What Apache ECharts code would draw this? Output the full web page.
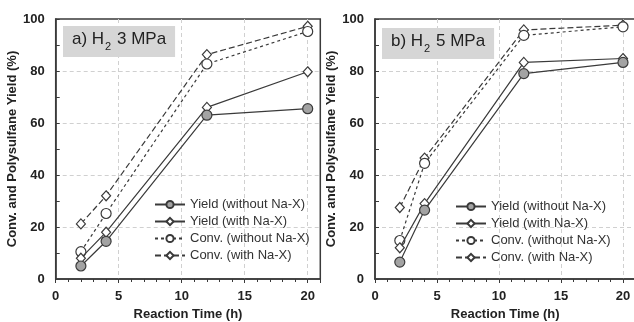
<!DOCTYPE html>
<html>
<head>
<meta charset="utf-8">
<script src="https://cdn.jsdelivr.net/npm/echarts@6/dist/echarts.min.js"></script>
<style>
  html, body { margin: 0; padding: 0; background: #fff; }
  #main { width: 634px; height: 322px; }
</style>
</head>
<body>
<div id="main"></div>
<script>
// reaction times (h)
var times = [2, 4, 12, 20];
var seriesNames = ['Yield (without Na-X)', 'Yield (with Na-X)', 'Conv. (without Na-X)', 'Conv. (with Na-X)'];
var xTicks = [0, 5, 10, 15, 20];
var yTicks = [0, 20, 40, 60, 80, 100];

// a) H2 3 MPa
var aYieldWithout = [5, 14.5, 63, 65.5];
var aYieldWith = [8, 18, 66, 79.7];
var aConvWithout = [10.5, 25.2, 82.7, 95.2];
var aConvWith = [21.2, 32, 86.3, 97.2];

// b) H2 5 MPa
var bYieldWithout = [6.5, 26.5, 79, 83.3];
var bYieldWith = [12, 29, 83.3, 84.8];
var bConvWithout = [14.8, 44.5, 93.7, 97];
var bConvWith = [27.5, 46.5, 95.8, 97.6];

var myChart = echarts.init(document.getElementById('main'));
var ink = '#3a3a3a';
var fontBold = { fontFamily: 'Liberation Sans', fontWeight: 'bold', color: '#222' };

function pairs(vals) {
    return times.map(function (t, i) { return [t, vals[i]]; });
}

// style per series: circle/diamond, fill, dash
var styles = [
    { symbol: 'circle', size: 10, fill: '#a3a3a3', dash: 'solid' },
    { symbol: 'diamond', size: [9, 10], fill: '#ffffff', dash: 'solid' },
    { symbol: 'circle', size: 10, fill: '#ffffff', dash: [3, 3] },
    { symbol: 'diamond', size: [9, 10], fill: '#ffffff', dash: [6, 3] }
];

function makeSeries(idx, sets) {
    return sets.map(function (vals, i) {
        var st = styles[i];
        return {
            name: seriesNames[i],
            type: 'line',
            xAxisIndex: idx,
            yAxisIndex: idx,
            data: pairs(vals),
            symbol: st.symbol,
            symbolSize: st.size,
            z: 10 - i,
            lineStyle: { color: ink, width: 1.2, type: st.dash },
            itemStyle: { color: st.fill, borderColor: ink, borderWidth: 1.2 }
        };
    });
}

function xAxisFor(idx) {
    return {
        type: 'value', gridIndex: idx, min: 0, max: 21, interval: 5,
        name: 'Reaction Time (h)', nameLocation: 'middle', nameGap: 27,
        nameTextStyle: Object.assign({ fontSize: 13 }, fontBold),
        axisLine: { lineStyle: { color: ink, width: 1.5 } },
        axisTick: { show: true, length: 4, lineStyle: { color: ink } },
        minorTick: { show: true, splitNumber: 5, length: 3, lineStyle: { color: ink } },
        axisLabel: Object.assign({
            fontSize: 13, margin: 11,
            formatter: function (v) { return xTicks.indexOf(v) >= 0 ? String(v) : ''; }
        }, fontBold),
        splitLine: { show: true, showMinLine: false, showMaxLine: false, lineStyle: { color: '#d0d0d0', type: [4, 3] } }
    };
}

function yAxisFor(idx, gap) {
    return {
        type: 'value', gridIndex: idx, min: 0, max: 100, interval: 20,
        name: 'Conv. and Polysulfane Yield (%)', nameLocation: 'middle', nameGap: gap,
        nameTextStyle: Object.assign({ fontSize: 13 }, fontBold),
        axisLine: { show: true, lineStyle: { color: ink, width: 1.5 } },
        axisTick: { show: true, inside: true, length: 4, lineStyle: { color: ink } },
        minorTick: { show: true, splitNumber: 2, length: 4, lineStyle: { color: ink } },
        axisLabel: Object.assign({
            fontSize: 13, margin: 11,
            formatter: function (v) { return yTicks.indexOf(v) >= 0 ? String(v) : ''; }
        }, fontBold),
        splitLine: { show: true, showMinLine: false, showMaxLine: false, lineStyle: { color: '#d0d0d0', type: [4, 3] } }
    };
}

function titleFor(left, top, label, pressure) {
    return {
        text: '{t|' + label + ' H}{s|2}{t| ' + pressure + '}',
        left: left, top: top,
        backgroundColor: '#d6d6d6',
        padding: [5, 9, 5, 9],
        textStyle: {
            fontWeight: 'normal',
            rich: {
                t: { fontFamily: 'Liberation Sans', fontWeight: 'normal', fontSize: 17, color: '#222', lineHeight: 20, verticalAlign: 'bottom' },
                s: { fontFamily: 'Liberation Sans', fontWeight: 'normal', fontSize: 11, color: '#222', lineHeight: 20, verticalAlign: 'bottom', padding: [0, 1, -4, 1] }
            }
        }
    };
}

function legendFor(left, top) {
    return {
        data: seriesNames,
        orient: 'vertical',
        left: left, top: top,
        itemWidth: 30, itemHeight: 9, itemGap: 4,
        selectedMode: false,
        textStyle: { fontFamily: 'Liberation Sans', fontSize: 13, color: '#333' }
    };
}

var option = {
    animation: false,
    backgroundColor: '#fff',
    title: [
        titleFor(63, 23, 'a)', '3 MPa'),
        titleFor(382, 25, 'b)', '5 MPa')
    ],
    legend: [
        legendFor(149, 193),
        legendFor(450, 195)
    ],
    grid: [
        { left: 55.7, top: 19, width: 264.6, height: 260, outerBoundsMode: 'none', show: true, borderColor: ink, borderWidth: 1.5, backgroundColor: 'transparent' },
        { left: 375, top: 19, width: 260.4, height: 260, outerBoundsMode: 'none', show: true, borderColor: ink, borderWidth: 1.5, backgroundColor: 'transparent' }
    ],
    xAxis: [xAxisFor(0), xAxisFor(1)],
    yAxis: [yAxisFor(0, 30), yAxisFor(1, 31)],
    series: makeSeries(0, [aYieldWithout, aYieldWith, aConvWithout, aConvWith])
        .concat(makeSeries(1, [bYieldWithout, bYieldWith, bConvWithout, bConvWith]))
};

myChart.setOption(option);
</script>
</body>
</html>
